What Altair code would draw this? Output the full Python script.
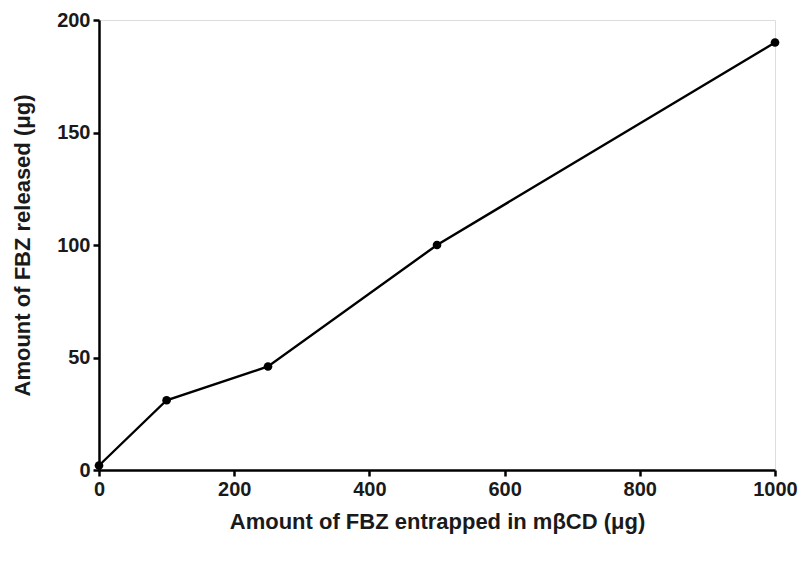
import altair as alt
import pandas as pd

x_vals = [0, 100, 250, 500, 1000]
y_vals = [2, 31, 46, 100, 190]

x_ticks = [0, 200, 400, 600, 800, 1000]
y_ticks = [0, 50, 100, 150, 200]

df = pd.DataFrame({"x": x_vals, "y": y_vals})

FONT = "Liberation Sans"
TXT = "#1a1a1a"

x_enc = alt.X(
    "x:Q",
    scale=alt.Scale(domain=[0, 1000], nice=False, zero=False),
    axis=alt.Axis(
        title="Amount of FBZ entrapped in mβCD (μg)",
        values=x_ticks,
        format="d",
        grid=False,
        domainColor="black",
        domainWidth=2.5,
        tickColor="black",
        tickWidth=2.5,
        tickSize=6,
        labelFont=FONT,
        labelFontSize=20,
        labelFontWeight="bold",
        labelColor=TXT,
        labelPadding=3,
        labelFlush=False,
        titleFont=FONT,
        titleFontSize=22,
        titleFontWeight="bold",
        titleColor=TXT,
        titleY=41,
    ),
)
y_enc = alt.Y(
    "y:Q",
    scale=alt.Scale(domain=[0, 200], nice=False, zero=False),
    axis=alt.Axis(
        title="Amount of FBZ released (μg)",
        values=y_ticks,
        format="d",
        grid=False,
        domainColor="black",
        domainWidth=2.5,
        tickColor="black",
        tickWidth=2.5,
        tickSize=6,
        labelFont=FONT,
        labelFontSize=20,
        labelFontWeight="bold",
        labelColor=TXT,
        labelPadding=3,
        labelFlush=False,
        titleFont=FONT,
        titleFontSize=22,
        titleFontWeight="bold",
        titleColor=TXT,
        titleX=-65,
    ),
)

base = alt.Chart(df).encode(x=x_enc, y=y_enc)
line = base.mark_line(color="black", strokeWidth=2.4)
pts = base.mark_point(filled=True, color="black", size=75, opacity=1)

chart = (
    (line + pts)
    .properties(
        width=676,
        height=450,
        autosize=alt.AutoSizeParams(type="none"),
        padding={"left": 91, "top": 12, "right": 23, "bottom": 88},
    )
    .configure_view(stroke=None)
    .configure(background="white")
)

chart.save("out.html", embed_options={"renderer": "svg", "actions": False})
